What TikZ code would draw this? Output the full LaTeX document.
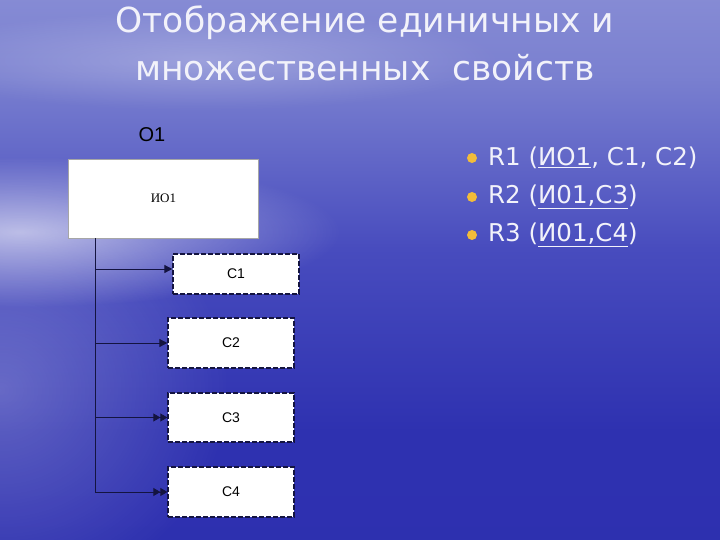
\documentclass[tikz,border=0pt]{standalone}
\usepackage{fontspec}
\setmainfont{DejaVu Sans}
\newfontfamily\arialf{Liberation Sans}
\newfontfamily\timesf{Liberation Serif}
\usetikzlibrary{arrows.meta,fadings}
\tikzfading[name=glowfade, inner color=transparent!0, outer color=transparent!100]
\definecolor{navy}{HTML}{141440}
\definecolor{ttl}{HTML}{F2F2FA}
\definecolor{bul}{HTML}{F2BC3A}
\pgfdeclareverticalshading{bgsh}{100bp}{color(0bp)=(rgb,255:red,44;green,46;blue,174); color(35bp)=(rgb,255:red,46;green,49;blue,176); color(52bp)=(rgb,255:red,72;green,76;blue,190); color(68bp)=(rgb,255:red,122;green,128;blue,208); color(85bp)=(rgb,255:red,150;green,154;blue,218); color(100bp)=(rgb,255:red,112;green,116;blue,200)}
\tikzset{
  mainbox/.style={draw=gray!70, line width=0.6pt, fill=white, minimum width=190pt, minimum height=79pt, inner sep=0pt, font=\timesf\fontsize{13}{15}\selectfont, text=black},
  cbox/.style={draw=navy, dash pattern=on 5pt off 2pt, line width=1.3pt, fill=white, minimum width=126pt, inner sep=0pt, font=\arialf\fontsize{14}{16}\selectfont, text=black},
  conn/.style={draw=navy, line width=0.8pt},
  tip1/.style={-{Triangle[length=8pt,width=8pt]}},
  tip2/.style={-{Triangle[length=7pt,width=8pt,sep=0pt]Triangle[length=7pt,width=8pt]}},
  titletext/.style={text=ttl, font=\fontsize{34.5}{38}\selectfont},
  bultext/.style={text=ttl, anchor=west, inner sep=0pt, font=\fontsize{24.5}{28}\selectfont},
  bulletdot/.style={fill=bul}
}
\begin{document}
\begin{tikzpicture}[x=1pt,y=-1pt]
\useasboundingbox (0,0) rectangle (720,540);
\shade[shading=bgsh] (0,0) rectangle (720,540);
\fill[white, fill opacity=0.25, path fading=glowfade] (0,390) ellipse (230 and 210);
\fill[white, fill opacity=0.6, path fading=glowfade] (20,232) ellipse (320 and 75);
\fill[white, fill opacity=0.25, path fading=glowfade] (200,60) ellipse (300 and 50);
% title
\node[titletext] (t1) at (365,23) {Отображение единичных и};
\node[titletext] (t2) at (365,68) {множественных\ \ свойств};
% diagram
\node[text=black, font=\arialf\fontsize{20}{22}\selectfont] (o1) at (152,135) {O1};
\node[mainbox] (io) at (163.5,198.5) {ИО1};
\node[cbox, minimum height=40pt] (c1) at (236,274) {С1};
\node[cbox, minimum height=50pt] (c2) at (231,343) {С2};
\node[cbox, minimum height=49pt] (c3) at (231,417.5) {С3};
\node[cbox, minimum height=50pt] (c4) at (231,492) {С4};
\coordinate (trunk) at (95,238);
\coordinate (c1in) at ([yshift=5pt]c1.west);
\draw[conn] (trunk) -- (trunk |- c4.west);
\draw[conn, tip1] (trunk |- c1in) -- (c1in);
\draw[conn, tip1] (trunk |- c2.west) -- (c2.west);
\draw[conn, tip2] (trunk |- c3.west) -- (c3.west);
\draw[conn, tip2] (trunk |- c4.west) -- (c4.west);
% bullets
\fill[bulletdot] (472,158) circle (5);
\fill[bulletdot] (472,197) circle (5);
\fill[bulletdot] (472,235) circle (5);
\node[bultext] (r1) at (488,158) {R1 (\underline{ИО1}, С1, С2)};
\node[bultext] (r2) at (488,197) {R2 (\underline{И01,С3})};
\node[bultext] (r3) at (488,235) {R3 (\underline{И01,С4})};
\end{tikzpicture}
\end{document}
